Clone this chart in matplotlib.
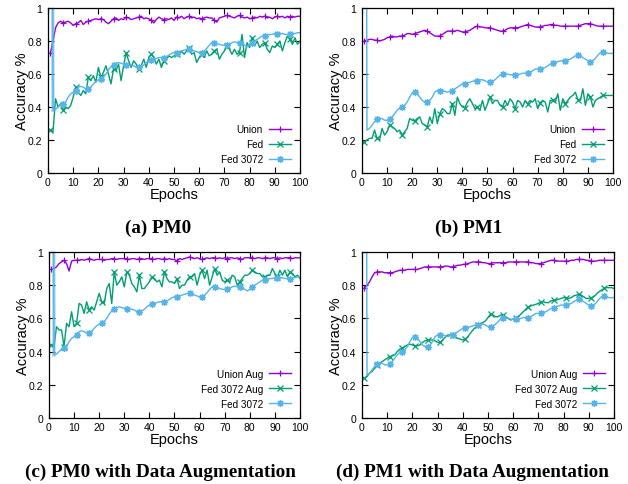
import matplotlib
matplotlib.use("Agg")
import matplotlib.pyplot as plt

# epochs 1..100 ; Fed 3072 runs start with an off-chart value at epoch 1
EPOCHS = list(range(1, 101))

PM0_UNION = [
    0.73, 0.80, 0.88, 0.91, 0.92, 0.91, 0.915, 0.92, 0.91, 0.895,
    0.905, 0.91, 0.925, 0.90, 0.915, 0.92, 0.925, 0.93, 0.935, 0.93,
    0.935, 0.93, 0.915, 0.905, 0.92, 0.935, 0.94, 0.925, 0.935, 0.93,
    0.945, 0.94, 0.93, 0.935, 0.94, 0.945, 0.95, 0.935, 0.94, 0.935,
    0.925, 0.91, 0.93, 0.945, 0.935, 0.93, 0.935, 0.93, 0.94, 0.925,
    0.945, 0.94, 0.95, 0.935, 0.945, 0.95, 0.94, 0.945, 0.935, 0.94,
    0.935, 0.94, 0.945, 0.94, 0.94, 0.925, 0.915, 0.94, 0.945, 0.95,
    0.955, 0.95, 0.945, 0.94, 0.95, 0.955, 0.945, 0.94, 0.945, 0.935,
    0.94, 0.945, 0.94, 0.95, 0.945, 0.95, 0.94, 0.945, 0.935, 0.945,
    0.95, 0.945, 0.95, 0.94, 0.95, 0.945, 0.95, 0.945, 0.95, 0.95,
]

PM0_FED = [
    0.26, 0.25, 0.45, 0.40, 0.42, 0.38, 0.40, 0.39, 0.41, 0.46,
    0.52, 0.49, 0.47, 0.50, 0.48, 0.58, 0.56, 0.59, 0.55, 0.64,
    0.58, 0.61, 0.65, 0.60, 0.54, 0.63, 0.62, 0.66, 0.56, 0.65,
    0.73, 0.68, 0.64, 0.68, 0.66, 0.63, 0.65, 0.69, 0.64, 0.70,
    0.72, 0.70, 0.66, 0.69, 0.64, 0.68, 0.69, 0.71, 0.70, 0.71,
    0.72, 0.71, 0.74, 0.72, 0.74, 0.76, 0.72, 0.73, 0.67, 0.70,
    0.72, 0.70, 0.74, 0.71, 0.72, 0.74, 0.75, 0.69, 0.72, 0.74,
    0.77, 0.75, 0.72, 0.75, 0.72, 0.73, 0.84, 0.70, 0.79, 0.76,
    0.82, 0.77, 0.80, 0.76, 0.78, 0.79, 0.75, 0.73, 0.77, 0.76,
    0.78, 0.80, 0.74, 0.79, 0.83, 0.81, 0.78, 0.82, 0.78, 0.80,
]

PM0_FED3072 = [
    6.00, 0.38, 0.385, 0.40, 0.415, 0.42, 0.43, 0.46, 0.48, 0.49,
    0.50, 0.52, 0.525, 0.52, 0.51, 0.51, 0.52, 0.54, 0.555, 0.565,
    0.57, 0.58, 0.60, 0.625, 0.645, 0.655, 0.665, 0.67, 0.665, 0.66,
    0.655, 0.655, 0.655, 0.65, 0.64, 0.64, 0.645, 0.655, 0.67, 0.68,
    0.685, 0.69, 0.695, 0.70, 0.70, 0.70, 0.705, 0.715, 0.725, 0.73,
    0.73, 0.735, 0.74, 0.745, 0.75, 0.75, 0.745, 0.74, 0.735, 0.73,
    0.73, 0.74, 0.755, 0.775, 0.79, 0.79, 0.785, 0.78, 0.775, 0.775,
    0.775, 0.78, 0.79, 0.795, 0.79, 0.79, 0.785, 0.775, 0.765, 0.775,
    0.79, 0.80, 0.81, 0.82, 0.83, 0.83, 0.835, 0.84, 0.84, 0.845,
    0.845, 0.845, 0.845, 0.84, 0.84, 0.84, 0.845, 0.845, 0.85, 0.85,
]

PM1_UNION = [
    0.80, 0.805, 0.81, 0.81, 0.805, 0.805, 0.80, 0.805, 0.81, 0.82,
    0.825, 0.83, 0.825, 0.825, 0.83, 0.83, 0.835, 0.845, 0.845, 0.84,
    0.845, 0.85, 0.855, 0.86, 0.865, 0.86, 0.85, 0.84, 0.83, 0.83,
    0.83, 0.84, 0.85, 0.86, 0.86, 0.86, 0.86, 0.865, 0.86, 0.855,
    0.855, 0.86, 0.865, 0.875, 0.885, 0.89, 0.885, 0.885, 0.88, 0.88,
    0.88, 0.875, 0.87, 0.865, 0.86, 0.86, 0.865, 0.875, 0.88, 0.88,
    0.88, 0.88, 0.885, 0.89, 0.895, 0.90, 0.895, 0.89, 0.885, 0.885,
    0.885, 0.89, 0.895, 0.895, 0.90, 0.90, 0.895, 0.895, 0.89, 0.89,
    0.89, 0.89, 0.89, 0.89, 0.89, 0.89, 0.895, 0.90, 0.905, 0.905,
    0.905, 0.90, 0.895, 0.89, 0.89, 0.89, 0.89, 0.89, 0.89, 0.89,
]

PM1_FED = [
    0.19, 0.20, 0.21, 0.21, 0.26, 0.21, 0.20, 0.27, 0.23, 0.25,
    0.29, 0.28, 0.27, 0.25, 0.26, 0.23, 0.25, 0.27, 0.33, 0.32,
    0.315, 0.33, 0.34, 0.30, 0.29, 0.28, 0.34, 0.30, 0.39, 0.30,
    0.36, 0.39, 0.38, 0.36, 0.36, 0.42, 0.35, 0.46, 0.42, 0.40,
    0.395, 0.43, 0.45, 0.42, 0.39, 0.40, 0.38, 0.44, 0.38, 0.42,
    0.46, 0.42, 0.44, 0.44, 0.41, 0.40, 0.44, 0.41, 0.45, 0.43,
    0.39, 0.44, 0.43, 0.40, 0.44, 0.42, 0.44, 0.43, 0.45, 0.39,
    0.425, 0.44, 0.43, 0.37, 0.44, 0.44, 0.43, 0.48, 0.38, 0.45,
    0.42, 0.44, 0.46, 0.47, 0.49, 0.445, 0.44, 0.51, 0.41, 0.48,
    0.46, 0.40, 0.44, 0.45, 0.46, 0.47, 0.47, 0.47, 0.47, 0.47,
]

PM1_FED3072 = [
    6.00, 0.26, 0.27, 0.29, 0.31, 0.325, 0.33, 0.33, 0.32, 0.32,
    0.325, 0.34, 0.36, 0.38, 0.395, 0.40, 0.41, 0.43, 0.46, 0.485,
    0.49, 0.48, 0.46, 0.44, 0.43, 0.43, 0.44, 0.46, 0.49, 0.50,
    0.50, 0.50, 0.495, 0.49, 0.495, 0.50, 0.51, 0.52, 0.53, 0.54,
    0.54, 0.545, 0.55, 0.555, 0.56, 0.56, 0.565, 0.565, 0.56, 0.55,
    0.55, 0.555, 0.565, 0.58, 0.595, 0.60, 0.60, 0.60, 0.595, 0.595,
    0.595, 0.595, 0.60, 0.605, 0.605, 0.605, 0.61, 0.62, 0.63, 0.63,
    0.63, 0.635, 0.64, 0.65, 0.66, 0.665, 0.67, 0.675, 0.68, 0.68,
    0.68, 0.685, 0.69, 0.70, 0.71, 0.715, 0.71, 0.70, 0.69, 0.68,
    0.675, 0.68, 0.695, 0.715, 0.73, 0.735, 0.73, 0.725, 0.725, 0.725,
]

PM0_UNION_AUG = [
    0.895, 0.90, 0.91, 0.93, 0.94, 0.95, 0.93, 0.885, 0.945, 0.95,
    0.95, 0.95, 0.955, 0.95, 0.955, 0.96, 0.955, 0.95, 0.955, 0.955,
    0.955, 0.95, 0.955, 0.955, 0.96, 0.96, 0.955, 0.96, 0.96, 0.96,
    0.96, 0.955, 0.96, 0.96, 0.955, 0.96, 0.96, 0.955, 0.96, 0.96,
    0.96, 0.955, 0.96, 0.96, 0.955, 0.96, 0.955, 0.96, 0.955, 0.955,
    0.945, 0.96, 0.955, 0.96, 0.965, 0.97, 0.965, 0.96, 0.965, 0.96,
    0.955, 0.96, 0.965, 0.96, 0.965, 0.965, 0.96, 0.965, 0.96, 0.965,
    0.96, 0.965, 0.965, 0.96, 0.965, 0.96, 0.955, 0.965, 0.965, 0.965,
    0.965, 0.96, 0.965, 0.965, 0.96, 0.965, 0.965, 0.96, 0.965, 0.965,
    0.96, 0.965, 0.96, 0.965, 0.965, 0.965, 0.96, 0.965, 0.965, 0.965,
]

PM0_FED3072_AUG = [
    0.44, 0.43, 0.55, 0.53, 0.53, 0.43, 0.57, 0.55, 0.64, 0.55,
    0.57, 0.69, 0.68, 0.63, 0.70, 0.65, 0.67, 0.65, 0.70, 0.75,
    0.70, 0.69, 0.78, 0.81, 0.69, 0.88, 0.80, 0.82, 0.85, 0.79,
    0.88, 0.86, 0.81, 0.79, 0.76, 0.86, 0.78, 0.78, 0.80, 0.82,
    0.85, 0.84, 0.82, 0.83, 0.79, 0.88, 0.84, 0.82, 0.82, 0.81,
    0.84, 0.78, 0.80, 0.80, 0.83, 0.85, 0.85, 0.87, 0.80, 0.86,
    0.89, 0.84, 0.89, 0.80, 0.85, 0.90, 0.86, 0.88, 0.83, 0.82,
    0.83, 0.82, 0.86, 0.85, 0.80, 0.82, 0.84, 0.86, 0.86, 0.87,
    0.89, 0.88, 0.87, 0.87, 0.85, 0.85, 0.86, 0.86, 0.90, 0.87,
    0.85, 0.89, 0.86, 0.89, 0.85, 0.88, 0.87, 0.85, 0.86, 0.84,
]

PM1_UNION_AUG = [
    0.785, 0.80, 0.82, 0.85, 0.875, 0.88, 0.88, 0.88, 0.875, 0.875,
    0.875, 0.875, 0.88, 0.885, 0.89, 0.89, 0.89, 0.895, 0.895, 0.895,
    0.895, 0.895, 0.90, 0.905, 0.91, 0.91, 0.91, 0.91, 0.91, 0.91,
    0.91, 0.91, 0.915, 0.915, 0.91, 0.91, 0.915, 0.92, 0.92, 0.925,
    0.925, 0.93, 0.935, 0.94, 0.94, 0.94, 0.94, 0.935, 0.935, 0.93,
    0.93, 0.935, 0.935, 0.935, 0.935, 0.935, 0.935, 0.94, 0.94, 0.94,
    0.94, 0.94, 0.94, 0.94, 0.94, 0.94, 0.935, 0.935, 0.93, 0.93,
    0.93, 0.935, 0.94, 0.945, 0.95, 0.95, 0.945, 0.945, 0.945, 0.945,
    0.945, 0.945, 0.95, 0.95, 0.955, 0.955, 0.955, 0.955, 0.95, 0.95,
    0.945, 0.945, 0.945, 0.95, 0.95, 0.95, 0.95, 0.95, 0.95, 0.95,
]

PM1_FED3072_AUG = [
    0.24, 0.25, 0.27, 0.28, 0.30, 0.32, 0.33, 0.34, 0.35, 0.36,
    0.37, 0.375, 0.38, 0.40, 0.415, 0.42, 0.43, 0.44, 0.445, 0.44,
    0.435, 0.435, 0.44, 0.455, 0.465, 0.47, 0.47, 0.47, 0.465, 0.455,
    0.455, 0.47, 0.485, 0.50, 0.50, 0.50, 0.49, 0.48, 0.475, 0.47,
    0.475, 0.49, 0.51, 0.53, 0.545, 0.56, 0.565, 0.575, 0.585, 0.605,
    0.625, 0.62, 0.61, 0.61, 0.62, 0.62, 0.61, 0.60, 0.59, 0.595,
    0.60, 0.61, 0.625, 0.64, 0.655, 0.67, 0.675, 0.68, 0.685, 0.69,
    0.70, 0.70, 0.695, 0.695, 0.705, 0.71, 0.71, 0.715, 0.72, 0.725,
    0.725, 0.72, 0.725, 0.735, 0.74, 0.745, 0.74, 0.73, 0.72, 0.72,
    0.725, 0.73, 0.745, 0.76, 0.77, 0.78, 0.785, 0.785, 0.785, 0.78,
]

PURPLE = "#9400d3"
GREEN = "#009e73"
BLUE = "#56b4e9"

plt.rcParams["font.family"] = ["Liberation Sans", "DejaVu Sans"]

fig = plt.figure(figsize=(6.28, 4.85), dpi=100)

panels = [
    # (rect, series list, caption, caption pos, wide spike)
    ([0.0764, 0.6412, 0.4013, 0.3402],
     [("Union", PM0_UNION, PURPLE, "+"),
      ("Fed", PM0_FED, GREEN, "x"),
      ("Fed 3072", PM0_FED3072, BLUE, (8, 2, 0))],
     "(a) PM0", (0.252, 0.530), True),
    ([0.5764, 0.6412, 0.3997, 0.3402],
     [("Union", PM1_UNION, PURPLE, "+"),
      ("Fed", PM1_FED, GREEN, "x"),
      ("Fed 3072", PM1_FED3072, BLUE, (8, 2, 0))],
     "(b) PM1", (0.746, 0.530), False),
    ([0.0780, 0.1361, 0.3997, 0.3423],
     [("Union Aug", PM0_UNION_AUG, PURPLE, "+"),
      ("Fed 3072 Aug", PM0_FED3072_AUG, GREEN, "x"),
      ("Fed 3072", PM0_FED3072, BLUE, (8, 2, 0))],
     "(c) PM0 with Data Augmentation", (0.256, 0.027), True),
    ([0.5764, 0.1361, 0.4013, 0.3423],
     [("Union Aug", PM1_UNION_AUG, PURPLE, "+"),
      ("Fed 3072 Aug", PM1_FED3072_AUG, GREEN, "x"),
      ("Fed 3072", PM1_FED3072, BLUE, (8, 2, 0))],
     "(d) PM1 with Data Augmentation", (0.752, 0.027), False),
]

for rect, series, caption, cpos, wide in panels:
    ax = fig.add_axes(rect)
    for label, vals, color, marker in series:
        ax.plot(EPOCHS, vals, color=color, lw=1.0, marker=marker,
                markevery=(0, 5), markersize=5, markeredgewidth=0.9,
                label=label)
        if wide and label == "Fed 3072":
            # the off-chart first epoch draws a wider light band in PM0 runs
            ax.plot(EPOCHS[:2], vals[:2], color=color, lw=2.4, alpha=0.55)
    ax.set_xlim(0, 100)
    ax.set_ylim(0, 1)
    ax.set_xticks(range(0, 101, 10))
    ax.set_yticks([0, 0.2, 0.4, 0.6, 0.8, 1])
    ax.set_yticklabels(["0", "0.2", "0.4", "0.6", "0.8", "1"])
    ax.tick_params(direction="in", length=4, width=0.8, top=True, right=True,
                   labelsize=7.5, colors="black")
    ax.tick_params(axis="x", pad=3)
    ax.tick_params(axis="y", pad=4)
    for sp in ax.spines.values():
        sp.set_linewidth(0.9)
    ax.set_xlabel("Epochs", fontsize=10.5, labelpad=0)
    ax.set_ylabel("Accuracy %", fontsize=10.5, labelpad=-1)
    ax.legend(loc="lower right", markerfirst=False, frameon=False,
              fontsize=7.2, handlelength=2.2, handletextpad=0.6,
              labelspacing=0.5, borderaxespad=0.5, numpoints=1)
    fig.text(cpos[0], cpos[1], caption, ha="center", va="center",
             fontsize=13.8, fontweight="bold", family="Liberation Serif")

fig.savefig("out.png", dpi=100)
